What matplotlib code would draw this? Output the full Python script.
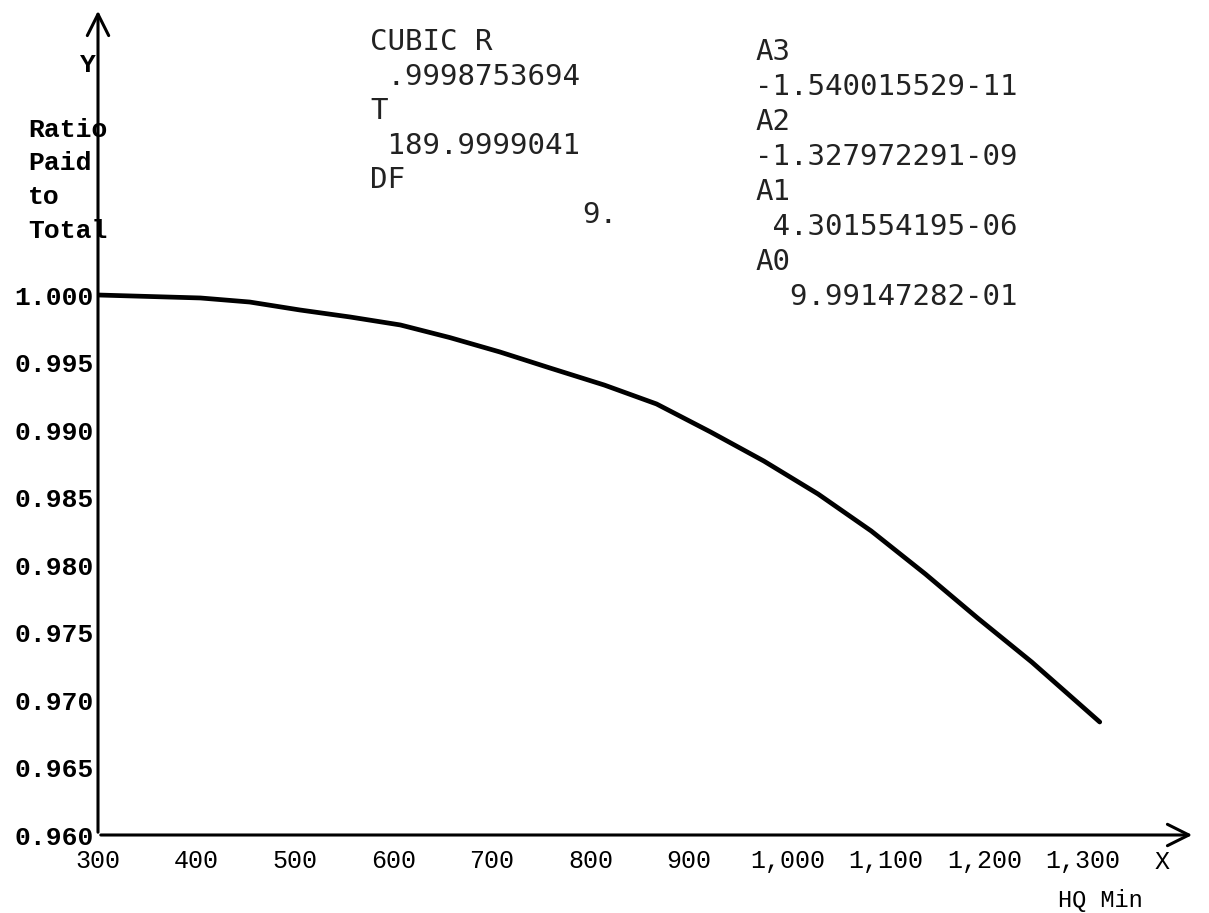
import matplotlib
matplotlib.use("Agg")
import matplotlib.pyplot as plt

# =========================
# DATOS
# =========================

hq_min = [300, 404, 454, 505, 556, 607, 657, 708, 759, 814, 867,
          922, 976, 1031, 1085, 1140, 1193, 1248, 1317]
ratio = [1.00000, 0.99978, 0.99948, 0.99889, 0.99837, 0.99778, 0.99685,
         0.99578, 0.99459, 0.99333, 0.99193, 0.98985, 0.98770, 0.98526,
         0.98252, 0.97933, 0.97607, 0.97281, 0.96837]

x_ticks = [300, 400, 500, 600, 700, 800, 900, 1000, 1100, 1200, 1300]
x_labels = ["300", "400", "500", "600", "700", "800", "900",
            "1,000", "1,100", "1,200", "1,300"]
y_ticks = [0.960, 0.965, 0.970, 0.975, 0.980, 0.985, 0.990, 0.995, 1.000]
y_labels = ["0.960", "0.965", "0.970", "0.975", "0.980",
            "0.985", "0.990", "0.995", "1.000"]

left_block = ["CUBIC R", " .9998753694", "T", " 189.9999041", "DF"]
df_value = "9."
right_block = ["A3", "-1.540015529-11", "A2", "-1.327972291-09", "A1",
               " 4.301554195-06", "A0", "  9.99147282-01"]

W, H = 1209, 913


def px(x, y):
    return x / W, 1 - y / H


fig = plt.figure(figsize=(W / 100, H / 100), dpi=100)
fig.patch.set_facecolor("white")

# area de ejes en pixeles: x 98..1195, y 8..835
ax = fig.add_axes([98 / W, (H - 835) / H, (1195 - 98) / W, (835 - 8) / H])
ax.set_xlim(300, 300 + (1195 - 98) / 0.985)
ax.set_ylim(0.960, 1.0 + (295 - 8) / 13500)

ax.plot(hq_min, ratio, color="black", linewidth=3.4, solid_capstyle="round",
        solid_joinstyle="round")

for s in ax.spines.values():
    s.set_visible(False)

ax.set_xticks(x_ticks)
ax.set_xticklabels(x_labels, family="Liberation Mono", fontsize=18)
ax.set_yticks(y_ticks)
ax.set_yticklabels(y_labels, family="Liberation Mono", fontsize=19,
                   fontweight="bold")
ax.tick_params(axis="x", length=0, pad=10)
ax.tick_params(axis="y", length=0, pad=3)

# ejes con flechas
arrow = dict(arrowstyle="->,head_length=0.7,head_width=0.35",
             color="black", lw=2.2, mutation_scale=22)
ax.annotate("", xy=(1, 0), xytext=(0, 0), xycoords="axes fraction",
            arrowprops=arrow)
ax.annotate("", xy=(0, 1), xytext=(0, 0), xycoords="axes fraction",
            arrowprops=arrow)

# etiquetas de ejes
fig.text(*px(96, 65), "Y", ha="right", va="center", family="Liberation Mono",
         fontsize=19, fontweight="bold")
for i, t in enumerate(["Ratio", "Paid", "to", "Total"]):
    fig.text(*px(28, 130 + i * 33.5), t, ha="left", va="center",
             family="Liberation Mono", fontsize=19, fontweight="bold")
fig.text(*px(1162, 862), "X", ha="center", va="center",
         family="Liberation Mono", fontsize=18)
fig.text(*px(1100, 900), "HQ Min", ha="center", va="center",
         family="Liberation Mono", fontsize=17)

# resultados de la regresion
for i, t in enumerate(left_block):
    fig.text(*px(370, 42 + i * 34.6), t, ha="left", va="center",
             family="DejaVu Sans Mono", fontsize=21, color="#222222")
fig.text(*px(582, 215), df_value, ha="left", va="center",
         family="DejaVu Sans Mono", fontsize=21, color="#222222")

for i, t in enumerate(right_block):
    fig.text(*px(755, 52 + i * 35), t, ha="left", va="center",
             family="DejaVu Sans Mono", fontsize=21, color="#222222")

plt.savefig("out.png", dpi=100)
plt.close()
